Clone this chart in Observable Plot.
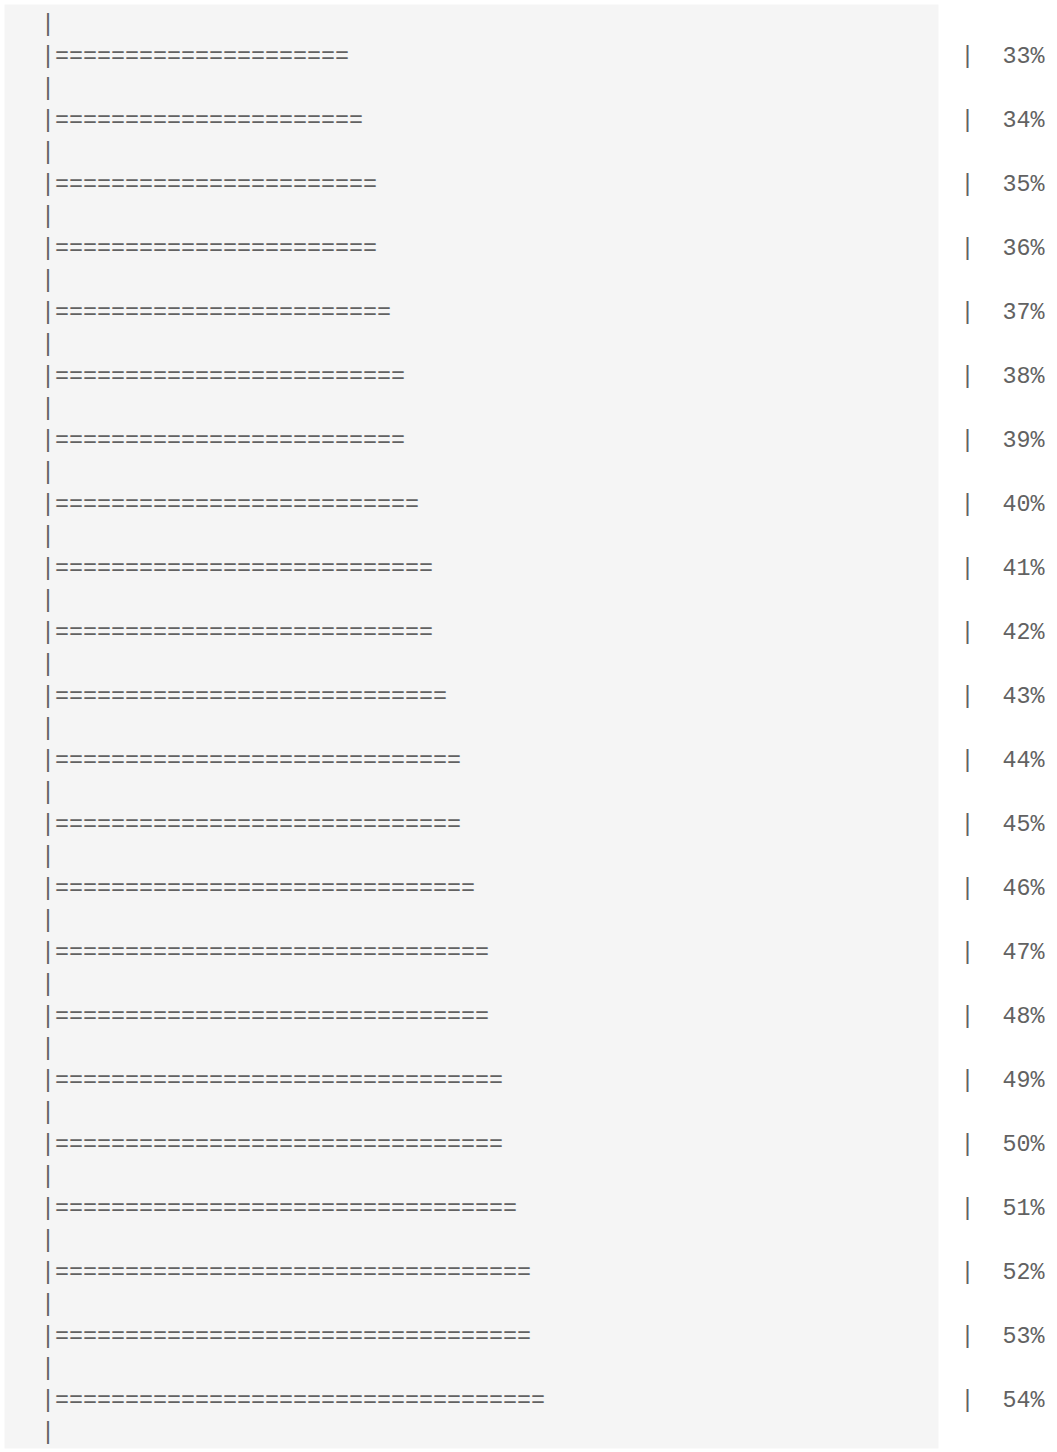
<!DOCTYPE html>
<html>
<head>
<meta charset="utf-8">
<script src="https://cdn.jsdelivr.net/npm/d3@7"></script>
<script src="https://cdn.jsdelivr.net/npm/@observablehq/plot@0.6"></script>
<style>
  html, body { margin: 0; padding: 0; background: #ffffff; }
  #chart svg { display: block; }
</style>
</head>
<body>
<div id="chart"></div>
<script>
// Percent labels for each row (top to bottom)
const percents = [33, 34, 35, 36, 37, 38, 39, 40, 41, 42, 43, 44, 45, 46, 47, 48, 49, 50, 51, 52, 53, 54];
// Number of "=" characters drawn in each row's text bar
const barChars = [21, 22, 23, 23, 24, 25, 25, 26, 27, 27, 28, 29, 29, 30, 31, 31, 32, 32, 33, 34, 34, 35];

const rows = percents.map((p, i) => ({pct: p, n: barChars[i]}));
const last = rows[rows.length - 1];

const FONT = "'Liberation Mono', 'DejaVu Sans Mono', monospace";
const FS = 23.33;
const INK = "#626262";

const chart = Plot.plot({
  width: 1057,
  height: 1452,
  marginLeft: 4,
  marginRight: 119,
  marginTop: 4,
  marginBottom: 4,
  style: {fontFamily: FONT, fontSize: FS + "px", color: INK, background: "#ffffff"},
  x: {domain: [0, 1], range: [40.5, 54.5], axis: null},
  y: {type: "point", domain: percents, range: [55, 1399], padding: 0, axis: null},
  marks: [
    Plot.frame({fill: "#f5f5f5", stroke: null}),
    // separator pipes above each row
    Plot.text(rows, {x: () => 0, y: "pct", dy: -32, text: () => "|", textAnchor: "start",
      fontFamily: FONT, fontSize: FS, fill: INK}),
    // trailing pipe after last row
    Plot.text([last], {x: () => 0, y: "pct", dy: 32, text: () => "|", textAnchor: "start",
      fontFamily: FONT, fontSize: FS, fill: INK}),
    // text bars
    Plot.text(rows, {x: () => 0, y: "pct", text: d => "|" + "=".repeat(d.n), textAnchor: "start",
      fontFamily: FONT, fontSize: FS, fill: INK}),
    // right-hand percentage labels
    Plot.axisY({anchor: "right", tickSize: 0, tickPadding: 22, tickFormat: d => "|  " + d + "%",
      fontFamily: FONT, fontSize: FS, fill: INK, label: null})
  ]
});
document.getElementById("chart").append(chart);
</script>
</body>
</html>
